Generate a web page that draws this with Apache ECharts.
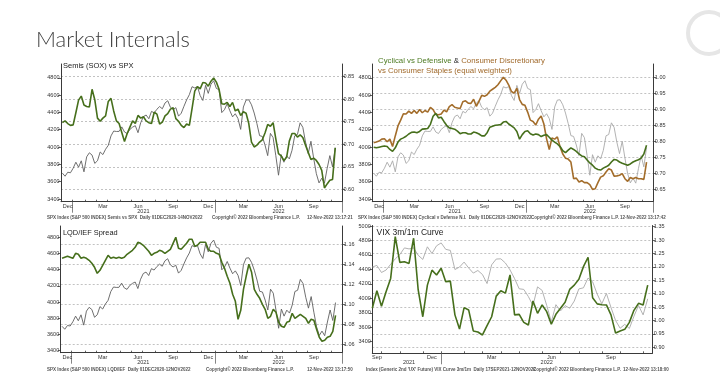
<!DOCTYPE html>
<html>
<head>
<meta charset="utf-8">
<script src="https://cdn.jsdelivr.net/npm/echarts@6/dist/echarts.min.js"></script>
<style>
html,body{margin:0;padding:0;background:#fff;}
#chart{width:720px;height:379px;}
</style>
</head>
<body>
<div id="chart"></div>
<script>
// ---------- DATA (weekly Friday observations) ----------
const weeklyStart = '2020-12-04';      // first week, panels 1-3
const weeklyCount = 104;               // weeks on the x axis, panels 1-3
const vixStart = '2021-09-17';         // first week, VIX panel
const vixCount = 62;                   // weeks on the x axis, VIX panel
const vixSpxOffset = 41;               // week of 2021-09-17 in spxClose

const spxClose = [3699,3663,3709,3703,3756,3825,3768,3841,3714,3887,
 3934,3907,3811,3842,3943,3913,3975,4020,4129,4185,
 4180,4181,4233,4174,4156,4204,4230,4247,4166,4281,
 4352,4370,4327,4412,4395,4437,4468,4442,4509,4535,
 4459,4433,4455,4357,4391,4471,4545,4605,4697,4683,
 4698,4595,4538,4712,4620,4726,4766,4677,4663,4398,
 4432,4501,4419,4349,4385,4329,4204,4463,4543,4546,
 4488,4393,4272,4132,4123,4024,3901,4158,4109,3901,
 3675,3912,3825,3899,3863,3962,4130,4145,4280,4228,
 4058,3924,4067,3873,3693,3586,3640,3583,3752,3901,
 3771,3993];

const semisVsSpx = [0.748,0.752,0.746,0.742,0.743,0.770,0.798,0.807,0.787,0.784,
 0.783,0.822,0.799,0.758,0.751,0.758,0.763,0.795,0.802,0.774,
 0.752,0.746,0.726,0.706,0.724,0.738,0.752,0.746,0.764,0.758,
 0.761,0.752,0.748,0.746,0.771,0.767,0.745,0.749,0.763,0.768,
 0.778,0.781,0.757,0.751,0.742,0.737,0.745,0.742,0.779,0.818,
 0.828,0.823,0.837,0.836,0.829,0.840,0.847,0.838,0.822,0.790,
 0.789,0.793,0.784,0.793,0.774,0.778,0.764,0.772,0.769,0.746,
 0.705,0.694,0.698,0.705,0.710,0.725,0.744,0.740,0.748,0.712,
 0.679,0.674,0.664,0.671,0.707,0.724,0.724,0.716,0.721,0.715,
 0.698,0.682,0.666,0.669,0.664,0.655,0.642,0.603,0.612,0.620,
 0.622,0.692];

const cyclicalVsDefensive = [0.782,0.780,0.782,0.784,0.786,0.784,0.775,0.769,0.780,0.798,
 0.807,0.811,0.816,0.823,0.828,0.829,0.827,0.831,0.838,0.839,
 0.840,0.853,0.878,0.887,0.873,0.875,0.862,0.850,0.842,0.840,
 0.838,0.832,0.824,0.827,0.827,0.823,0.823,0.829,0.827,0.823,
 0.817,0.817,0.827,0.844,0.847,0.850,0.851,0.852,0.860,0.862,
 0.854,0.848,0.842,0.831,0.807,0.821,0.831,0.833,0.824,0.820,
 0.823,0.821,0.815,0.819,0.821,0.813,0.804,0.798,0.792,0.784,
 0.771,0.765,0.773,0.780,0.775,0.769,0.761,0.755,0.752,0.742,
 0.733,0.726,0.717,0.713,0.711,0.717,0.721,0.726,0.736,0.744,
 0.742,0.736,0.732,0.729,0.726,0.730,0.736,0.740,0.743,0.748,
 0.761,0.788];

const discVsStaples = [0.796,0.798,0.801,0.807,0.808,0.799,0.807,0.784,0.817,0.848,
 0.866,0.886,0.885,0.894,0.887,0.896,0.887,0.899,0.889,0.896,
 0.891,0.906,0.899,0.884,0.883,0.885,0.897,0.892,0.908,0.914,
 0.906,0.904,0.902,0.923,0.926,0.919,0.918,0.931,0.909,0.925,
 0.943,0.940,0.945,0.956,0.962,0.968,0.976,0.988,0.999,0.990,
 0.975,0.955,0.950,0.965,0.930,0.915,0.912,0.891,0.866,0.862,
 0.851,0.869,0.879,0.854,0.808,0.775,0.811,0.807,0.814,0.783,
 0.761,0.748,0.745,0.736,0.684,0.686,0.674,0.678,0.672,0.672,
 0.666,0.651,0.653,0.672,0.689,0.693,0.705,0.715,0.711,0.692,
 0.693,0.695,0.700,0.684,0.676,0.688,0.684,0.688,0.684,0.684,
 0.682,0.736];

const lqdIefSpread = [1.146,1.147,1.148,1.147,1.146,1.151,1.150,1.146,1.147,1.146,
 1.144,1.141,1.137,1.131,1.134,1.139,1.144,1.149,1.146,1.147,
 1.146,1.147,1.146,1.147,1.150,1.152,1.154,1.157,1.162,1.161,
 1.159,1.156,1.153,1.149,1.151,1.152,1.154,1.153,1.151,1.153,
 1.155,1.161,1.167,1.156,1.155,1.158,1.161,1.165,1.165,1.158,
 1.159,1.162,1.162,1.162,1.155,1.153,1.153,1.151,1.150,1.142,
 1.136,1.128,1.121,1.110,1.103,1.085,1.094,1.115,1.128,1.140,
 1.132,1.115,1.110,1.106,1.100,1.095,1.086,1.088,1.095,1.092,
 1.082,1.078,1.077,1.082,1.083,1.091,1.086,1.088,1.090,1.088,
 1.086,1.081,1.085,1.084,1.075,1.067,1.063,1.064,1.067,1.068,
 1.073,1.089];

const vixCurve3m1m = [1.046,1.111,1.053,1.107,1.157,1.313,1.217,1.219,1.213,1.307,
 1.114,1.014,1.132,1.188,1.170,1.195,1.145,1.147,1.021,0.968,
 1.048,1.039,0.961,0.957,0.946,0.981,1.014,1.091,1.111,1.102,
 1.170,1.021,1.023,0.993,0.983,1.073,1.027,1.058,1.033,0.986,
 1.023,1.046,1.068,1.116,1.132,1.154,1.201,1.236,1.085,1.062,
 1.059,1.058,1.021,0.953,0.961,0.967,0.993,1.038,1.064,1.058,
 1.132];

// tick labels
const spxTicks = [3400,3600,3800,4000,4200,4400,4600,4800];
const spxTicksVix = [3400,3600,3800,4000,4200,4400,4600,4800,5000];
const semisTicks = [0.60,0.65,0.70,0.75,0.80,0.85];
const cycTicks = [0.65,0.70,0.75,0.80,0.85,0.90,0.95,1.00];
const lqdTicks = [1.06,1.08,1.10,1.12,1.14,1.16];
const vixTicks = [0.90,0.95,1.00,1.05,1.10,1.15,1.20,1.25,1.30,1.35];
const quarterMonthNames = {11:'Dec', 2:'Mar', 5:'Jun', 8:'Sep'};

// ---------- helpers ----------
const DAY = 86400000;
function weeklyDates(start, n) {
  const t0 = Date.parse(start + 'T00:00:00Z');
  const out = [];
  for (let i = 0; i < n; i++) out.push(t0 + i * 7 * DAY);
  return out;
}
function fmtDate(t) { return new Date(t).toISOString().slice(0, 10); }
function nearest(arr, t) {
  let b = 0, bd = Infinity;
  arr.forEach((v, i) => { const d = Math.abs(v - t); if (d < bd) { bd = d; b = i; } });
  return b;
}
function axisMarks(ts, onBand) {
  const half = onBand ? 3.5 * DAY : 0;
  const visStart = ts[0] - half, visEnd = ts[ts.length - 1] + half;
  const tickDates = ts.map(t => t - half);
  const monthLab = {}, yearLab = {}, monthTick = new Set(), yearTick = new Set();
  let y = new Date(visStart).getUTCFullYear(), m = new Date(visStart).getUTCMonth();
  while (Date.UTC(y, m, 1) <= visEnd) {
    const ms = Date.UTC(y, m, 1), me = Date.UTC(y, m + 1, 1);
    if (ms > visStart) monthTick.add(nearest(tickDates, ms));
    const a = Math.max(ms, visStart), b = Math.min(me, visEnd);
    if (quarterMonthNames[m] && b - a >= 7 * DAY) monthLab[nearest(ts, (a + b) / 2)] = quarterMonthNames[m];
    m++; if (m > 11) { m = 0; y++; }
  }
  for (let yy = new Date(visStart).getUTCFullYear(); yy <= new Date(visEnd).getUTCFullYear(); yy++) {
    const ys = Date.UTC(yy, 0, 1), ye = Date.UTC(yy + 1, 0, 1);
    if (ys > visStart) yearTick.add(nearest(tickDates, ys));
    const a = Math.max(ys, visStart), b = Math.min(ye, visEnd);
    if (b - a >= 60 * DAY) yearLab[nearest(ts, (a + b) / 2)] = String(yy);
  }
  return {monthLab, yearLab, monthTick, yearTick};
}

const AX = '#3a3a3a';
const LBL = {fontSize: 5.5, color: '#333', fontFamily: '"Liberation Sans", Arial, sans-serif'};
function xAxesFor(grid, ts, onBand) {
  const mk = axisMarks(ts, onBand);
  const cats = ts.map(fmtDate);
  return [{
    type: 'category', gridIndex: grid, position: 'bottom', data: cats, boundaryGap: onBand,
    axisLine: {show: true, lineStyle: {color: AX, width: 1}},
    axisTick: {show: true, inside: true, length: 2, interval: (i) => mk.monthTick.has(i), lineStyle: {color: AX, width: 0.8}},
    axisLabel: Object.assign({show: true, margin: 1.5, interval: (i) => (i in mk.monthLab),
      formatter: (v, i) => mk.monthLab[i] || ''}, LBL),
    splitLine: {show: false}
  }, {
    type: 'category', gridIndex: grid, position: 'bottom', data: cats, boundaryGap: onBand,
    axisLine: {show: false},
    axisTick: {show: true, inside: false, length: 11, interval: (i) => mk.yearTick.has(i), lineStyle: {color: '#666', width: 0.8}},
    axisLabel: Object.assign({show: true, margin: 6.5, interval: (i) => (i in mk.yearLab),
      formatter: (v, i) => mk.yearLab[i] || ''}, LBL),
    splitLine: {show: false}
  }];
}
function yAxisFor(grid, pos, min, max, ticks, digits, split) {
  return {
    type: 'value', gridIndex: grid, position: pos, min: min, max: max,
    axisLine: {show: true, lineStyle: {color: AX, width: 1}},
    axisTick: {show: true, length: 3, customValues: ticks, lineStyle: {color: AX, width: 0.8}},
    axisLabel: Object.assign({customValues: ticks, margin: 1.5,
      formatter: (v) => digits ? Number(v).toFixed(digits) : String(Math.round(v))}, LBL),
    splitLine: {show: split, lineStyle: {color: '#a8a8a8', width: 0.7, type: [2, 2]}}
  };
}
function lineSeries(xi, yi, data, color, width, z) {
  return {type: 'line', xAxisIndex: xi, yAxisIndex: yi, data: data, showSymbol: false, symbol: 'none',
    lineStyle: {color: color, width: width}, z: z, silent: true, animation: false};
}

const tsMain = weeklyDates(weeklyStart, weeklyCount);
const tsVix = weeklyDates(vixStart, vixCount);

const GREEN = '#466f1c', BROWN = '#a36d2b', GRAY_D = '#5f5f5f', GRAY_L = '#a9a9a9';
const TITLE_FONT = '"Liberation Sans", Arial, sans-serif';
const FOOT = {fontSize: 4.5, color: '#555', fontFamily: '"Liberation Sans", Arial, sans-serif'};
function ttl(text, left, top, style) {
  return {text: text, left: left, top: top, padding: 0, textStyle: style};
}
function pStyle(size) {
  return {fontFamily: TITLE_FONT, fontSize: size, color: '#1a1a1a', fontWeight: 'normal', lineHeight: 10};
}

const option = {
  backgroundColor: '#ffffff',
  animation: false,
  grid: [
    {left: 61, top: 64, width: 281, height: 137.7},
    {left: 372.3, top: 64, width: 281, height: 137.7},
    {left: 60.7, top: 226, width: 281.6, height: 126.7},
    {left: 372.3, top: 225.5, width: 280, height: 127.8}
  ],
  xAxis: [].concat(
    xAxesFor(0, tsMain, true),
    xAxesFor(1, tsMain, true),
    xAxesFor(2, tsMain, true),
    xAxesFor(3, tsVix, false)
  ),
  yAxis: [
    yAxisFor(0, 'left', 3368.8, 4959.4, spxTicks, 0, false),
    yAxisFor(0, 'right', 0.5725, 0.8782, semisTicks, 2, true),
    yAxisFor(1, 'left', 3368.8, 4959.4, spxTicks, 0, false),
    yAxisFor(1, 'right', 0.6127, 1.0404, cycTicks, 2, true),
    yAxisFor(2, 'left', 3372.8, 4939.7, spxTicks, 0, false),
    yAxisFor(2, 'right', 1.0516, 1.1783, lqdTicks, 2, true),
    yAxisFor(3, 'left', 3239.6, 5006.9, spxTicksVix, 0, false),
    yAxisFor(3, 'right', 0.8776, 1.3545, vixTicks, 2, true)
  ],
  series: [
    lineSeries(0, 0, spxClose, GRAY_D, 0.9, 2),
    lineSeries(0, 1, semisVsSpx, GREEN, 1.6, 3),
    lineSeries(2, 2, spxClose, GRAY_L, 0.9, 2),
    lineSeries(2, 3, discVsStaples, BROWN, 1.6, 3),
    lineSeries(2, 3, cyclicalVsDefensive, GREEN, 1.6, 4),
    lineSeries(4, 4, spxClose, GRAY_D, 0.9, 2),
    lineSeries(4, 5, lqdIefSpread, GREEN, 1.6, 3),
    lineSeries(6, 6, spxClose.slice(vixSpxOffset), GRAY_L, 0.9, 2),
    lineSeries(6, 7, vixCurve3m1m, GREEN, 1.6, 3)
  ],
  title: [
    ttl('Market Internals', 36, 28.5, {fontFamily: 'Lato, "Open Sans", sans-serif', fontWeight: 300, fontSize: 22, color: '#404040'}),
    ttl('Semis (SOX) vs SPX', 63, 61, pStyle(7.5)),
    ttl('{g|Cyclical vs Defensive} {k|&} {b|Consumer Discretionary}\n{b|vs Consumer Staples (equal weighted)}', 378, 56,
      Object.assign(pStyle(7.8), {rich: {
        g: {color: '#4d7a22', fontFamily: TITLE_FONT, fontSize: 7.8, lineHeight: 10},
        k: {color: '#222', fontFamily: TITLE_FONT, fontSize: 7.8, lineHeight: 10},
        b: {color: '#a0692a', fontFamily: TITLE_FONT, fontSize: 7.8, lineHeight: 10}
      }})),
    ttl('LQD/IEF Spread', 63, 227.5, pStyle(7.4)),
    ttl('VIX 3m/1m Curve', 376.5, 227.5, pStyle(8.5)),
    ttl('SPX Index (S&P 500 INDEX) Semis vs SPX  Daily 01DEC2020-14NOV2022', 47, 215.5, FOOT),
    ttl('Copyright\u00a9 2022 Bloomberg Finance L.P.', 212, 215.5, FOOT),
    ttl('12-Nov-2022 13:17:21', 307, 215.5, FOOT),
    ttl('SPX Index (S&P 500 INDEX) Cyclical v Defense N.I.  Daily 01DEC2020-12NOV2022', 358, 215.5, FOOT),
    ttl('Copyright\u00a9 2022 Bloomberg Finance L.P.', 531, 215.5, FOOT),
    ttl('12-Nov-2022 13:17:42', 620, 215.5, FOOT),
    ttl('SPX Index (S&P 500 INDEX) LQD/IEF  Daily 01DEC2020-12NOV2022', 47, 366.8, FOOT),
    ttl('Copyright\u00a9 2022 Bloomberg Finance L.P.', 206, 366.8, FOOT),
    ttl('12-Nov-2022 13:17:50', 307, 366.8, FOOT),
    ttl("Index (Generic 2nd 'UX' Future) VIX Curve 3m/1m  Daily 17SEP2021-12NOV2022", 366, 366.8, FOOT),
    ttl('Copyright\u00a9 2022 Bloomberg Finance L.P.', 533, 366.8, FOOT),
    ttl('12-Nov-2022 13:18:00', 623, 366.8, FOOT)
  ],
  graphic: [
    {type: 'circle', silent: true, shape: {cx: 709, cy: 33, r: 21},
     style: {fill: 'none', stroke: '#e6e6e6', lineWidth: 4}}
  ]
};

const chart = echarts.init(document.getElementById('chart'), null, {renderer: 'canvas'});
chart.setOption(option);
</script>
</body>
</html>
